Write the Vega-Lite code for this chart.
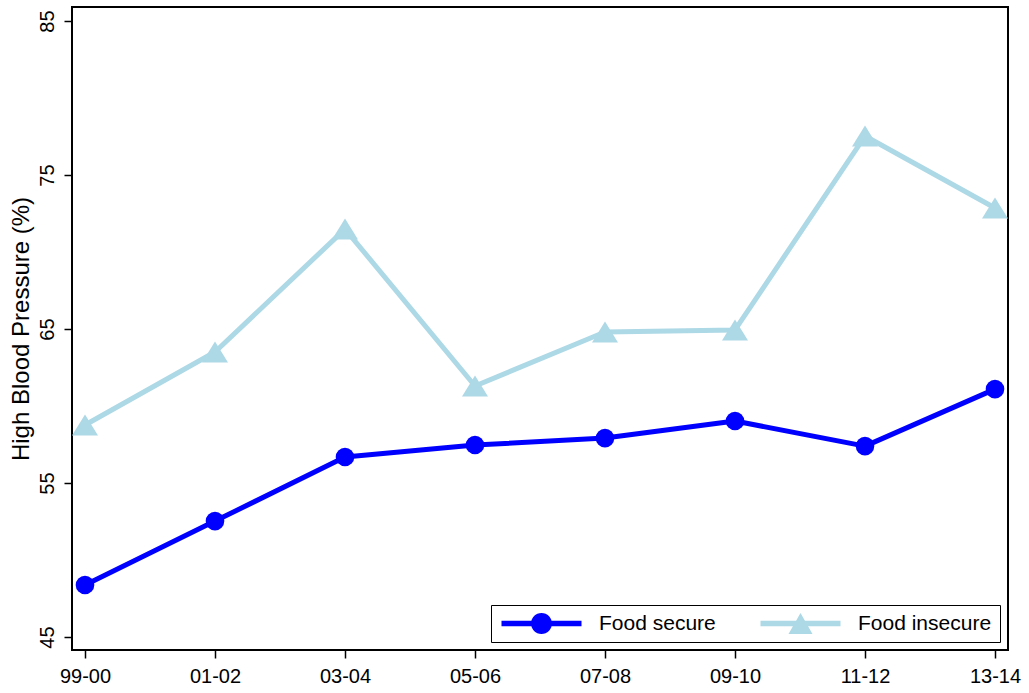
{
  "$schema": "https://vega.github.io/schema/vega-lite/v6.json",
  "width": 936,
  "height": 643,
  "autosize": "none",
  "padding": {"left": 72, "top": 7, "right": 21, "bottom": 43},
  "background": "white",
  "config": {
    "font": "Liberation Sans",
    "view": {"stroke": "black", "strokeWidth": 2},
    "axis": {"grid": false, "domain": false, "tickColor": "black", "tickWidth": 1.5, "tickSize": 8, "labelColor": "black", "labelFont": "Liberation Sans", "labelFontSize": 20, "titleFont": "Liberation Sans", "titleColor": "black", "titleFontWeight": "normal"}
  },
  "data": {
    "values": [
      {"period": "99-00", "group": "Food secure", "pct": 48.38},
      {"period": "01-02", "group": "Food secure", "pct": 52.53},
      {"period": "03-04", "group": "Food secure", "pct": 56.69},
      {"period": "05-06", "group": "Food secure", "pct": 57.47},
      {"period": "07-08", "group": "Food secure", "pct": 57.92},
      {"period": "09-10", "group": "Food secure", "pct": 59.03},
      {"period": "11-12", "group": "Food secure", "pct": 57.40},
      {"period": "13-14", "group": "Food secure", "pct": 61.10},
      {"period": "99-00", "group": "Food insecure", "pct": 58.77},
      {"period": "01-02", "group": "Food insecure", "pct": 63.51},
      {"period": "03-04", "group": "Food insecure", "pct": 71.49},
      {"period": "05-06", "group": "Food insecure", "pct": 61.30},
      {"period": "07-08", "group": "Food insecure", "pct": 64.81},
      {"period": "09-10", "group": "Food insecure", "pct": 64.94},
      {"period": "11-12", "group": "Food insecure", "pct": 77.53},
      {"period": "13-14", "group": "Food insecure", "pct": 72.86}
    ]
  },
  "encoding": {
    "x": {
      "field": "period", "type": "ordinal",
      "scale": {"type": "point", "padding": 0.1, "domain": ["99-00", "01-02", "03-04", "05-06", "07-08", "09-10", "11-12", "13-14"]},
      "axis": {"title": null, "labelAngle": 0, "labelPadding": 8}
    },
    "y": {
      "field": "pct", "type": "quantitative",
      "scale": {"domain": [44.16, 85.91], "nice": false, "zero": false},
      "axis": {"title": "High Blood Pressure (%)", "titleFontSize": 24, "titlePadding": 4, "values": [45, 55, 65, 75, 85], "labelAngle": -90, "labelPadding": 7}
    }
  },
  "layer": [
    {
      "mark": {"type": "line", "strokeWidth": 5, "strokeJoin": "round"},
      "encoding": {
        "color": {
          "field": "group", "type": "nominal",
          "scale": {"domain": ["Food secure", "Food insecure"], "range": ["#0000ff", "#add8e6"]},
          "legend": {
            "title": null, "orient": "bottom-right", "offset": 8, "direction": "horizontal",
            "strokeColor": "black", "fillColor": "white", "padding": 8,
            "labelFont": "Liberation Sans", "labelFontSize": 21, "labelColor": "black", "labelLimit": 400,
            "symbolSize": 400, "symbolStrokeWidth": 0, "symbolOffset": 32, "labelOffset": 47, "columnPadding": 42,
            "encode": {
              "symbols": {
                "update": {
                  "shape": {"signal": "datum.value === 'Food secure' ? 'M-4,-0.28L4,-0.28L4,0.28L-4,0.28ZM-1.05,0A1.05,1.05 0 1,1 1.05,0A1.05,1.05 0 1,1 -1.05,0Z' : 'M-4,-0.28L4,-0.28L4,0.28L-4,0.28ZM0,-1.05L1.2,1.05L-1.2,1.05Z'"},
                  "size": {"value": 400},
                  "fill": {"signal": "datum.value === 'Food secure' ? '#0000ff' : '#add8e6'"},
                  "strokeWidth": {"value": 0},
                  "opacity": {"value": 1},
                  "fillOpacity": {"value": 1}
                }
              }
            }
          }
        }
      }
    },
    {
      "transform": [{"filter": "datum.group === 'Food secure'"}],
      "mark": {"type": "point", "filled": true, "opacity": 1, "shape": "circle", "size": 346},
      "encoding": {"color": {"field": "group", "type": "nominal", "legend": null}}
    },
    {
      "transform": [{"filter": "datum.group === 'Food insecure'"}],
      "mark": {"type": "point", "filled": true, "opacity": 1, "shape": "M0,-0.81L1,0.81L-1,0.81Z", "size": 676},
      "encoding": {"color": {"field": "group", "type": "nominal", "legend": null}}
    }
  ]
}
